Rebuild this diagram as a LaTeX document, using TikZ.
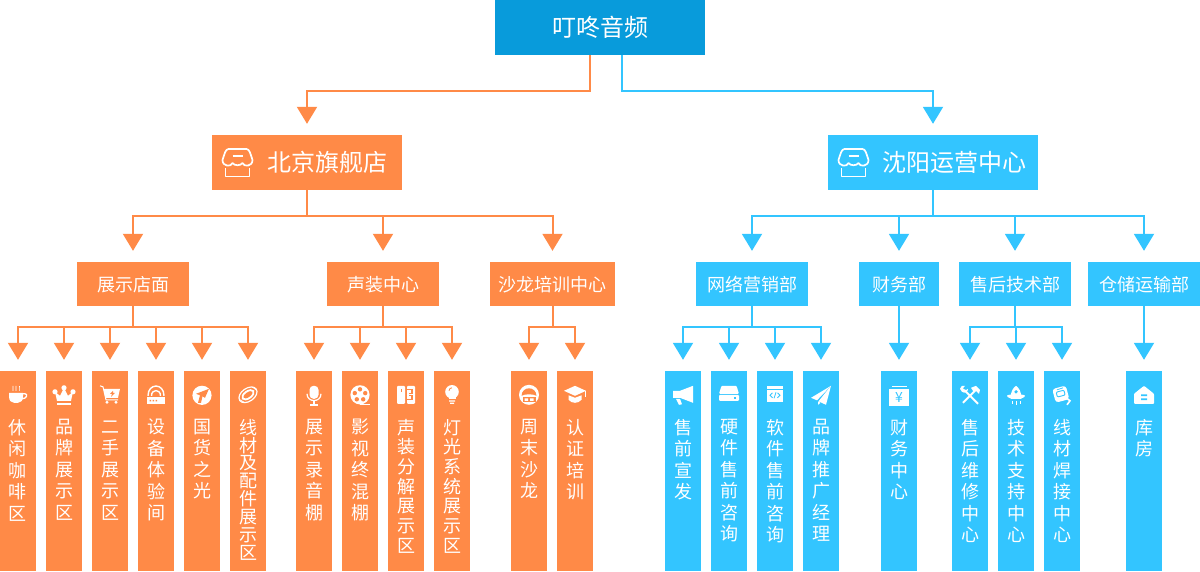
\documentclass[tikz,border=0pt]{standalone}
\usepackage{fontspec}
\setmainfont{Noto Sans CJK SC}
\usetikzlibrary{arrows.meta,positioning}

\definecolor{rootcol}{HTML}{089BDB}
\definecolor{orgcol}{HTML}{FF8A47}
\definecolor{blucol}{HTML}{33C5FF}
\setlength{\lineskiplimit}{-100pt}
\setlength{\normallineskiplimit}{-100pt}

\tikzset{
  tbox/.style={inner sep=0pt, text=white, font=\fontsize{18}{18}\selectfont, minimum height=44pt, text height=16pt, text depth=2pt},
  bigbox/.style={tbox, font=\fontsize{24}{24}\selectfont, minimum height=55pt, text height=21pt, text depth=3pt},
  leafbox/.style={inner sep=0pt, minimum width=36pt, minimum height=200pt},
  leaftxt/.style={inner sep=0pt, text=white, align=center},
  conn/.style={line width=2pt, -{Triangle[length=17pt,width=20pt]}, shorten >=11pt},
}

% icons, centred on (0,0), y runs downward
\newcommand{\icostore}{
  \draw[white,line width=1.7pt,line join=round]
    (-15,-3) .. controls (-13,-9) and (-12,-14) .. (-9,-14) -- (9,-14) .. controls (12,-14) and (13,-9) .. (15,-3)
    .. controls (15,4) and (6,4) .. (5,0)
    .. controls (3,3) and (-3,3) .. (-5,0)
    .. controls (-6,4) and (-15,4) .. (-15,-3) -- cycle;
  \draw[white,line width=1.7pt] (-5,-7) -- (5,-7);
  \draw[white,line width=1.7pt,line join=round] (-12,5) -- (-12,13.5) -- (12,13.5) -- (12,5);
}
\newcommand{\icocup}{
  \fill[white] (-9,-2) -- (5,-2) -- (5,1) .. controls (5,6) and (3,8) .. (0,8) -- (-4,8) .. controls (-7,8) and (-9,6) .. (-9,1) -- cycle;
  \draw[white,line width=1.3pt] (5,-1) -- (7,-1) .. controls (10,-1) and (9,4) .. (4,4);
  \foreach \q in {-5,-2,1} \draw[white,line width=.7pt] (\q,-4) .. controls (\q-1,-6) and (\q+1,-7) .. (\q,-9);
}
\newcommand{\icocrown}{
  \fill[white] (-7,6) -- (-9,-3) -- (-4,1) -- (0,-7) -- (4,1) -- (9,-3) -- (7,6) -- cycle;
  \fill[white] (-9,-3) circle (2.6) (0,-7) circle (2.6) (9,-3) circle (2.6);
  \fill[white] (-7,8) rectangle (7,10.5);
}
\newcommand{\icocart}{
  \draw[white,line width=1pt] (-10,-9) -- (-7,-8) -- (-4,5) -- (8,5);
  \fill[white] (-6.5,-6) -- (10,-6) -- (8,3) -- (-4.5,3) -- cycle;
  \fill[cutcol] (3,-4) -- (0,-1) -- (2,-1) -- (1,2) -- (5,-2) -- (3,-2) -- cycle;
  \fill[white] (-3,7.5) circle (1.6) (6,7.5) circle (1.6);
}
\newcommand{\icorouter}{
  \draw[white,line width=1.4pt] (-8,1) .. controls (-8,-12) and (8,-12) .. (8,1);
  \draw[white,line width=1.4pt] (-4.5,1) .. controls (-4.5,-6) and (4.5,-6) .. (4.5,1);
  \fill[white] (-9,2) rectangle (9,9);
  \fill[cutcol] (-6.5,5) rectangle (-5,6.5) (-3.5,5) rectangle (-2,6.5) (-.5,5) rectangle (1,6.5);
}
\newcommand{\icocompass}{
  \fill[white] (0,.5) circle (9.6);
  \fill[cutcol] (7,-6) -- (-6,-1) -- (-2,.5) -- (-4,8) -- (-1,8) -- (.5,1.5) -- (3,3) -- cycle;
}
\newcommand{\icoball}{
  \draw[white,line width=1.2pt,rotate=35] (0,0) ellipse (10 and 6.5);
  \draw[white,line width=1.8pt,rotate=35] (0,0) ellipse (6.5 and 3.5);
  \draw[white,line width=.7pt] (-8,5) -- (-3,8) (4,-8) -- (8,-5);
}
\newcommand{\icomic}{
  \fill[white,rounded corners=4pt] (-4.5,-9) rectangle (4.5,4);
  \draw[white,line width=1.2pt] (-7,-1) .. controls (-7,8) and (7,8) .. (7,-1);
  \draw[white,line width=1.4pt] (0,6) -- (0,10) (-4,10) -- (4,10);
}
\newcommand{\icoreel}{
  \fill[white] (0,0) circle (9.6);
  \fill[cutcol] (0,-5.5) circle (2.2) (5.2,-1.7) circle (2.2) (3.2,4.5) circle (2.2) (-3.2,4.5) circle (2.2) (-5.2,-1.7) circle (2.2);
  \draw[white,line width=1.2pt] (0,9.5) -- (10,9.5);
}
\newcommand{\icopanel}{
  \fill[white,rounded corners=1pt] (-9,-9) rectangle (-1,9);
  \fill[white,rounded corners=1pt] (1,-9) rectangle (9,9);
  \draw[cutcol,line width=1.1pt] (1,-5) -- (6,-5) -- (6,-1) -- (3,-1) (1,5) -- (6,5) -- (6,1) -- (3,1);
  \fill[cutcol] (-5,-6) rectangle (-4,-3);
}
\newcommand{\icobulb}{
  \fill[white] (0,-3) circle (6.8);
  \fill[white] (-3.5,2) rectangle (3.5,4.5);
  \fill[white] (-3,5.5) rectangle (3,6.7) (-2,7.7) rectangle (2,9);
  \draw[cutcol,line width=.8pt] (-3,-4) .. controls (-3,-6) and (-1.5,-7) .. (0,-7);
}
\newcommand{\icosofa}{
  \fill[white] (0,0) circle (10);
  \fill[cutcol] (-7.5,1) .. controls (-7,-9) and (7,-9) .. (7.5,1) .. controls (5,-1) and (-5,-1) .. (-7.5,1) -- cycle;
  \fill[cutcol] (-6.5,2.5) rectangle (6.5,7.5);
  \fill[white] (-4.5,3.5) rectangle (-1,6) (1,3.5) rectangle (4.5,6);
}
\newcommand{\icocap}{
  \fill[white] (-11,-4) -- (0,-9) -- (11,-4) -- (0,1) -- cycle;
  \fill[white] (-6.5,.5) -- (0,3) -- (6.5,.5) -- (6.5,5) .. controls (3,9) and (-3,9) .. (-6.5,5) -- cycle;
  \draw[white,line width=.8pt] (10.5,-4) -- (10.5,2);
}
\newcommand{\icohorn}{
  \fill[white] (-10,-4) -- (-3,-4) -- (10,-9) -- (10,8) -- (-3,3) -- (-10,3) -- cycle;
  \fill[white] (-7,4) -- (-3,4) -- (-1,9.5) -- (-4,10) -- cycle;
}
\newcommand{\icodrive}{
  \fill[white,rounded corners=1pt] (-7.5,-9) -- (7.5,-9) -- (10,-1) -- (-10,-1) -- cycle;
  \fill[white,rounded corners=1pt] (-10,0) rectangle (10,6);
  \fill[cutcol] (4.5,2.5) rectangle (7,3.8);
}
\newcommand{\icocode}{
  \fill[white] (-8,-9) rectangle (8,7);
  \draw[cutcol,line width=.9pt] (-8,-5.5) -- (8,-5.5);
  \draw[cutcol,line width=.8pt] (-2.5,-2) -- (-5,.5) -- (-2.5,3) (2.5,-2) -- (5,.5) -- (2.5,3) (1,-2.5) -- (-1,3.5);
}
\newcommand{\icoplane}{
  \fill[white] (10,-9) -- (-10,3) -- (-4,5.5) -- cycle;
  \fill[white] (10,-9) -- (-2.5,6.5) -- (5,10) -- cycle;
  \fill[white] (-3,6.5) -- (-3,10) -- (-.5,8) -- cycle;
}
\newcommand{\icoledger}{
  \fill[white] (-7.5,-9) rectangle (8,-7.5);
  \fill[white] (-10,-5.5) rectangle (10,11);
  \node[text=cutcol,inner sep=0pt,font=\fontsize{14}{14}\selectfont] (yen) at (0,2.5) {¥};
}
\newcommand{\icotools}{
  \draw[white,line width=2pt] (-6,-5) -- (8,9) (6,-5) -- (-7,8);
  \fill[white] (-10,-6) .. controls (-10,-9) and (-7,-9.5) .. (-5,-9) -- (-7,-6.5) -- (-5,-4) -- (-2,-6) .. controls (-2,-3) and (-5,-1) .. (-8,-3) -- cycle;
  \fill[white] (1,-7) -- (6,-9) -- (10,-5) -- (9,-1) -- (6,-4) -- (3,-4) -- cycle;
}
\newcommand{\icorocket}{
  \fill[white] (-5.5,4) .. controls (-5.5,-3) and (-3,-7) .. (0,-9) .. controls (3,-7) and (5.5,-3) .. (5.5,4) -- cycle;
  \fill[white] (-9,1) .. controls (-9,-1) and (9,-1) .. (9,1) .. controls (9,5) and (-9,5) .. (-9,1) -- cycle;
  \fill[cutcol] (0,-3) circle (1.8);
  \draw[white,line width=.9pt] (-4,6) -- (-4,9) (0,6) -- (0,10) (4,6) -- (4,9);
}
\newcommand{\icomask}{
  \fill[white,rounded corners=3pt,rotate=15] (-8,-8) rectangle (6,6);
  \draw[cutcol,line width=.9pt,rounded corners=1pt,rotate=15] (-5,-4) rectangle (3,1);
  \draw[cutcol,line width=.7pt] (-5,-5) -- (1,-7);
  \draw[white,line width=1.6pt] (4,3) -- (8,6) -- (5,10);
}
\newcommand{\icohouse}{
  \fill[white,rounded corners=.8pt] (0,-9) -- (10,-1) -- (10,9) -- (-10,9) -- (-10,-1) -- cycle;
  \fill[cutcol] (-3,-.5) rectangle (3,1.2) (-3,3.5) rectangle (3,5.2);
}

\begin{document}
\begin{tikzpicture}[x=1pt, y=-1pt]
  \useasboundingbox (0,0) rectangle (1200,571);

  % top levels
  \node[bigbox, fill=rootcol, minimum width=210pt] (root) at (600,27.5) {叮咚音频};
  \node[bigbox, fill=orgcol, minimum width=190pt] (bj) at (307,162.5) {\hspace{40pt}北京旗舰店};
  \node[bigbox, fill=blucol, minimum width=210pt] (sy) at (933,162.5) {\hspace{43pt}沈阳运营中心};
  \coordinate (rootl) at (590,55);
  \coordinate (rootr) at (622,55);
  \draw[conn, orgcol] (rootl) -- ++(0,36) -| (bj.north);
  \draw[conn, blucol] (rootr) -- ++(0,36) -| (sy.north);
  \begin{scope}[shift={(237.5,163)}] \icostore \end{scope}
  \begin{scope}[shift={(853.5,163)}] \icostore \end{scope}

  % departments
  \foreach \n/\x/\w/\t in {shop/133/112/展示店面, voice/383/112/声装中心, salon/552.5/125/沙龙培训中心}{
    \node[tbox, fill=orgcol, minimum width=\w pt] (\n) at (\x,284) {\t};
    \draw[conn, orgcol] (bj.south) -- ++(0,26) -| (\n.north);
  }
  \foreach \n/\x/\w/\t in {net/752/112/网络营销部, fin/899/80/财务部, tech/1015/112/售后技术部, store/1144/112/仓储运输部}{
    \node[tbox, fill=blucol, minimum width=\w pt] (\n) at (\x,284) {\t};
    \draw[conn, blucol] (sy.south) -- ++(0,26) -| (\n.north);
  }

  % orange columns
  \colorlet{cutcol}{orgcol}
  \foreach \n/\o/\x/\p/\ic/\t in {
    a1/shop/18/21.5/\icocup/休\\闲\\咖\\啡\\区,
    a2/shop/64/21.5/\icocrown/品\\牌\\展\\示\\区,
    a3/shop/110/21.5/\icocart/二\\手\\展\\示\\区,
    a4/shop/156/21.5/\icorouter/设\\备\\体\\验\\间,
    a5/shop/202/21.5/\icocompass/国\\货\\之\\光,
    a6/shop/248/17.9/\icoball/线\\材\\及\\配\\件\\展\\示\\区,
    b1/voice/314/21.5/\icomic/展\\示\\录\\音\\棚,
    b2/voice/360/21.5/\icoreel/影\\视\\终\\混\\棚,
    b3/voice/406/19.7/\icopanel/声\\装\\分\\解\\展\\示\\区,
    b4/voice/452/19.7/\icobulb/灯\\光\\系\\统\\展\\示\\区,
    c1/salon/529/21.5/\icosofa/周\\末\\沙\\龙,
    c2/salon/575/21.5/\icocap/认\\证\\培\\训}{
    \node[leafbox, fill=orgcol] (\n) at (\x,471) {};
    \node[leaftxt, font=\fontsize{18}{\p}\selectfont, below=48pt of \n.north] (\n txt) {\vphantom{国}\t};
    \draw[conn, orgcol] (\o.south) -- ++(0,21) -| (\n.north);
    \begin{scope}[shift={(\n.north)}, yshift=-24pt] \ic \end{scope}
  }

  % blue columns
  \colorlet{cutcol}{blucol}
  \foreach \n/\o/\x/\p/\ic/\t in {
    d1/net/683/21.5/\icohorn/售\\前\\宣\\发,
    d2/net/729/21.5/\icodrive/硬\\件\\售\\前\\咨\\询,
    d3/net/775/21.5/\icocode/软\\件\\售\\前\\咨\\询,
    d4/net/821/21.5/\icoplane/品\\牌\\推\\广\\经\\理,
    e1/fin/899/21.5/\icoledger/财\\务\\中\\心,
    f1/tech/970/21.5/\icotools/售\\后\\维\\修\\中\\心,
    f2/tech/1016/21.5/\icorocket/技\\术\\支\\持\\中\\心,
    f3/tech/1062/21.5/\icomask/线\\材\\焊\\接\\中\\心,
    g1/store/1144/21.5/\icohouse/库\\房}{
    \node[leafbox, fill=blucol] (\n) at (\x,471) {};
    \node[leaftxt, font=\fontsize{18}{\p}\selectfont, below=48pt of \n.north] (\n txt) {\vphantom{国}\t};
    \draw[conn, blucol] (\o.south) -- ++(0,21) -| (\n.north);
    \begin{scope}[shift={(\n.north)}, yshift=-24pt] \ic \end{scope}
  }
\end{tikzpicture}
\end{document}
